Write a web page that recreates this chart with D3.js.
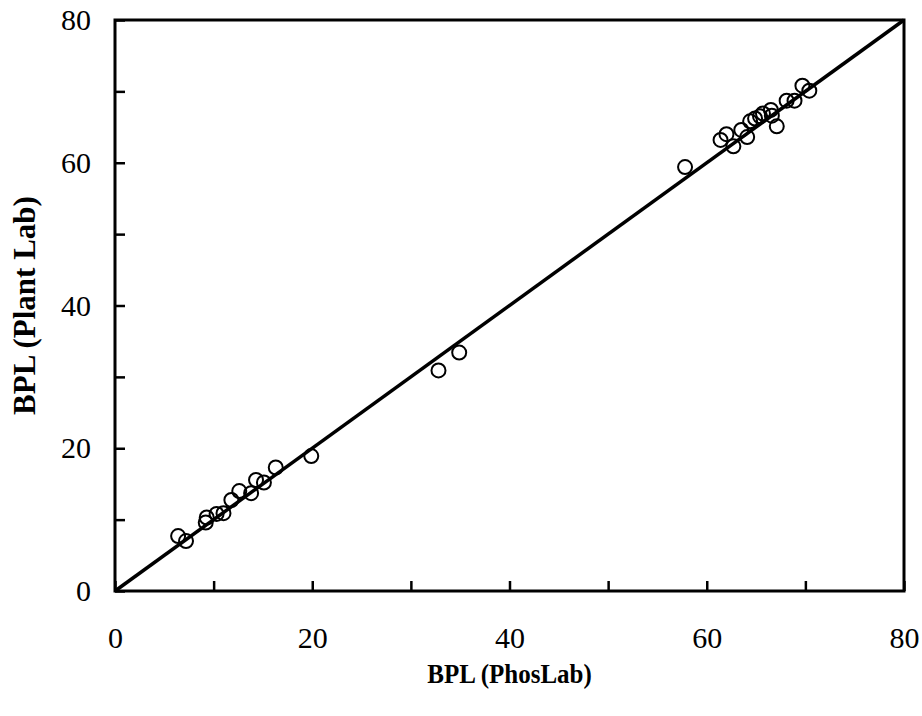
<!DOCTYPE html>
<html>
<head>
<meta charset="utf-8">
<script src="https://cdn.jsdelivr.net/npm/d3@7"></script>
<style>
  html, body { margin: 0; padding: 0; background: #fff; }
  svg { display: block; }
</style>
</head>
<body>
<svg id="chart" width="922" height="716"></svg>
<script>
// BPL measured by PhosLab (x) versus the plant laboratory (y)
const phosLab = [6.4, 7.2, 9.3, 9.2, 10.3, 11.0, 11.8, 12.6, 13.8, 14.3, 15.1, 16.3, 19.9,
                 32.8, 34.9,
                 57.8, 61.4, 62.0, 62.7, 63.5, 64.1, 64.4, 64.9, 65.4, 65.7, 66.5, 66.6, 67.1, 68.1, 68.9, 69.7, 70.4];
const plantLab = [7.7, 7.0, 10.3, 9.6, 10.8, 10.9, 12.75, 14.0, 13.7, 15.55, 15.2, 17.3, 18.9,
                  30.9, 33.4,
                  59.4, 63.2, 64.0, 62.3, 64.6, 63.6, 65.8, 66.2, 66.5, 66.9, 67.4, 66.6, 65.1, 68.7, 68.7, 70.8, 70.1];
// 1:1 reference line
const identityLine = [[0, 0], [80, 80]];
const majorTicks = [0, 20, 40, 60, 80];
const minorTicks = [10, 30, 50, 70];
const xTitle = "BPL (PhosLab)";
const yTitle = "BPL (Plant Lab)";

const svg = d3.select("#chart");
const plot = { left: 115, top: 20, right: 904, bottom: 591 };

const x = d3.scaleLinear().domain([0, 80]).range([plot.left, plot.right]);
const y = d3.scaleLinear().domain([0, 80]).range([plot.bottom, plot.top]);

const serif = "'Liberation Serif', 'Times New Roman', serif";
const allTicks = majorTicks.concat(minorTicks).sort(d3.ascending);

// inward ticks on the bottom and left edges, labels only on the major ones
const xAxis = d3.axisBottom(x).tickValues(allTicks)
  .tickSize(-10).tickFormat(d => majorTicks.includes(d) ? d : "").tickPadding(36);
const yAxis = d3.axisLeft(y).tickValues(allTicks)
  .tickSize(-10).tickFormat(d => majorTicks.includes(d) ? d : "").tickPadding(24);

const gx = svg.append("g").attr("transform", `translate(0,${plot.bottom})`).call(xAxis);
const gy = svg.append("g").attr("transform", `translate(${plot.left},0)`).call(yAxis);

[gx, gy].forEach(g => {
  g.select(".domain").remove();
  g.selectAll(".tick line").attr("stroke", "#000").attr("stroke-width", 2.5);
  g.selectAll(".tick text").attr("fill", "#000")
    .style("font-family", serif).style("font-size", "30px");
});

// plot frame
svg.append("rect")
  .attr("x", plot.left).attr("y", plot.top)
  .attr("width", plot.right - plot.left).attr("height", plot.bottom - plot.top)
  .attr("fill", "none").attr("stroke", "#000").attr("stroke-width", 3);

// identity line
svg.append("path")
  .datum(identityLine)
  .attr("d", d3.line().x(d => x(d[0])).y(d => y(d[1])))
  .attr("fill", "none").attr("stroke", "#000").attr("stroke-width", 3.5);

// data points
svg.append("g").selectAll("circle")
  .data(phosLab.map((v, i) => [v, plantLab[i]]))
  .join("circle")
  .attr("cx", d => x(d[0])).attr("cy", d => y(d[1])).attr("r", 7)
  .attr("fill", "none").attr("stroke", "#000").attr("stroke-width", 2);

// axis titles
svg.append("text")
  .attr("transform", `translate(${(plot.left + plot.right) / 2},683) scale(1,1.12)`)
  .attr("text-anchor", "middle")
  .style("font-family", serif).style("font-size", "25px").style("font-weight", "bold")
  .text(xTitle);

svg.append("text")
  .attr("transform", `translate(35,${(plot.top + plot.bottom) / 2}) rotate(-90)`)
  .attr("text-anchor", "middle")
  .style("font-family", serif).style("font-size", "31px").style("font-weight", "bold")
  .text(yTitle);
</script>
</body>
</html>
